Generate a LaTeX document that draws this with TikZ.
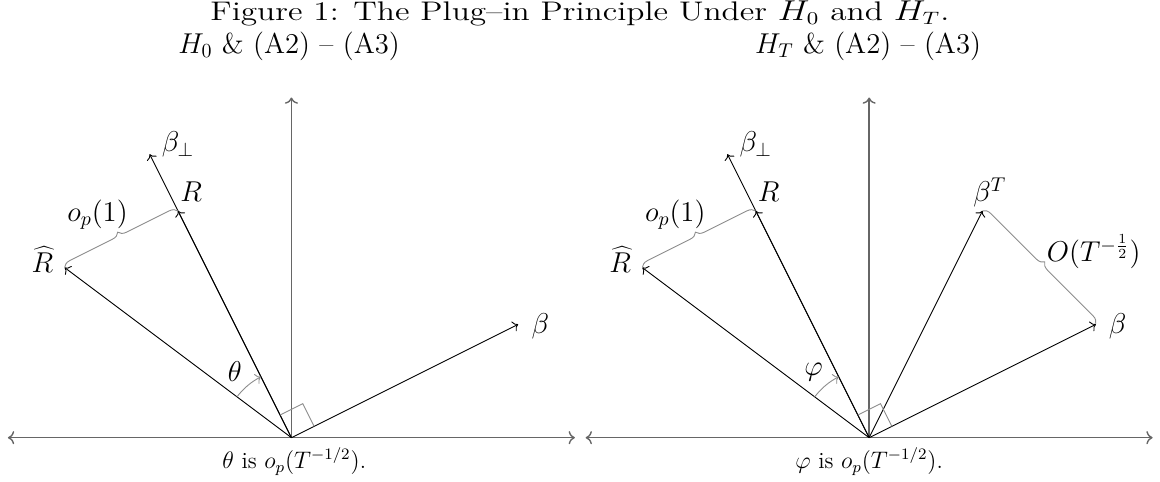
\documentclass[tikz,border=0pt]{standalone}
\usepackage{graphicx}
\usetikzlibrary{arrows.meta, positioning, decorations.pathreplacing}

\begin{document}
\begin{tikzpicture}[
  font=\Large,
  x=1cm, y=1cm,
  axis/.style={<->, draw=black!60, line width=0.7pt},
  axisup/.style={->, draw=black!60, line width=0.7pt},
  vec/.style={->, draw=black, line width=0.45pt},
  bracegray/.style={draw=black!45, line width=0.45pt, decorate, decoration={brace, amplitude=4pt}},
  angarc/.style={->, draw=black!45, line width=0.45pt},
  rightmark/.style={draw=black!45, line width=0.45pt},
  note/.style={font=\fontsize{11.6}{14}\selectfont}
]
\useasboundingbox (-5.14,-0.78) rectangle (15.32,7.72);

% Titre général
\node (fig) at (5.09,7.48) {\scalebox{1.24}[1]{\fontsize{13.5}{16}\selectfont Figure 1: The Plug--in Principle Under $H_0$ and $H_T$.}};

% Panneau gauche (H_0)
\coordinate (oL)     at (0,0);
\coordinate (xlL)    at (-5,0);
\coordinate (xrL)    at (5,0);
\coordinate (ytopL)  at (0,6);
\coordinate (bperpL) at (-2.5,5);
\coordinate (rL)     at (-2,4);
\coordinate (rhatL)  at (-4,3);
\coordinate (betaL)  at (4,2);

\draw[axis] (xlL) -- (xrL);
\draw[axisup] (oL) -- (ytopL);
\draw[vec] (oL) -- (bperpL);
\draw[vec] (oL) -- (rL);
\draw[vec] (oL) -- (rhatL);
\draw[vec] (oL) -- (betaL);
\draw[bracegray] (rhatL) -- (rL);
\draw[angarc] (oL) ++(143.13:1.2) arc[start angle=143.13, end angle=116.57, radius=1.2];
\draw[rightmark] (-0.2,0.4) -- (0.2,0.6) -- (0.4,0.2);

\node (titleL)  at (-0.04,6.91) {$H_0$ \& (A2) -- (A3)};
\node (lbperpL) at (-2.0,5.17)  {$\beta_\perp$};
\node (lrL)     at (-1.77,4.34) {$R$};
\node (lrhatL)  at (-4.39,3.15) {$\widehat{R}$};
\node (lopL)    at (-3.42,3.93) {$o_p(1)$};
\node (lbetaL)  at (4.39,1.96)  {$\beta$};
\node (lthetaL) at (-1.0,1.16)  {$\theta$};
\node[note] (capL) at (0.05,-0.42) {$\theta$ is $o_p(T^{-1/2})$.};

% Panneau droit (H_T)
\begin{scope}[xshift=10.19cm]
\coordinate (oR)     at (0,0);
\coordinate (xlR)    at (-5,0);
\coordinate (xrR)    at (5,0);
\coordinate (ytopR)  at (0,6);
\coordinate (bperpR) at (-2.5,5);
\coordinate (rR)     at (-2,4);
\coordinate (rhatR)  at (-4,3);
\coordinate (betaR)  at (4,2);
\coordinate (btR)    at (2,4);

\draw[axis] (xlR) -- (xrR);
\draw[axisup] (oR) -- (ytopR);
\draw[vec] (oR) -- (bperpR);
\draw[vec] (oR) -- (rR);
\draw[vec] (oR) -- (rhatR);
\draw[vec] (oR) -- (betaR);
\draw[vec] (oR) -- (btR);
\draw[bracegray] (rhatR) -- (rR);
\draw[bracegray] (btR) -- (betaR);
\draw[angarc] (oR) ++(143.13:1.2) arc[start angle=143.13, end angle=116.57, radius=1.2];
\draw[rightmark] (-0.2,0.4) -- (0.2,0.6) -- (0.4,0.2);

\node (titleR)  at (-0.02,6.91) {$H_T$ \& (A2) -- (A3)};
\node (lbperpR) at (-2.0,5.17)  {$\beta_\perp$};
\node (lrR)     at (-1.77,4.34) {$R$};
\node (lrhatR)  at (-4.39,3.15) {$\widehat{R}$};
\node (lopR)    at (-3.42,3.93) {$o_p(1)$};
\node (lbetaR)  at (4.38,1.96)  {$\beta$};
\node (lbtR)    at (2.13,4.32)  {$\beta^T$};
\node (lbigoR)  at (3.96,3.28)  {$O(T^{-\frac{1}{2}})$};
\node (lphiR)   at (-0.98,1.16) {$\varphi$};
\node[note] (capR) at (0,-0.42) {$\varphi$ is $o_p(T^{-1/2})$.};
\end{scope}
\end{tikzpicture}
\end{document}
